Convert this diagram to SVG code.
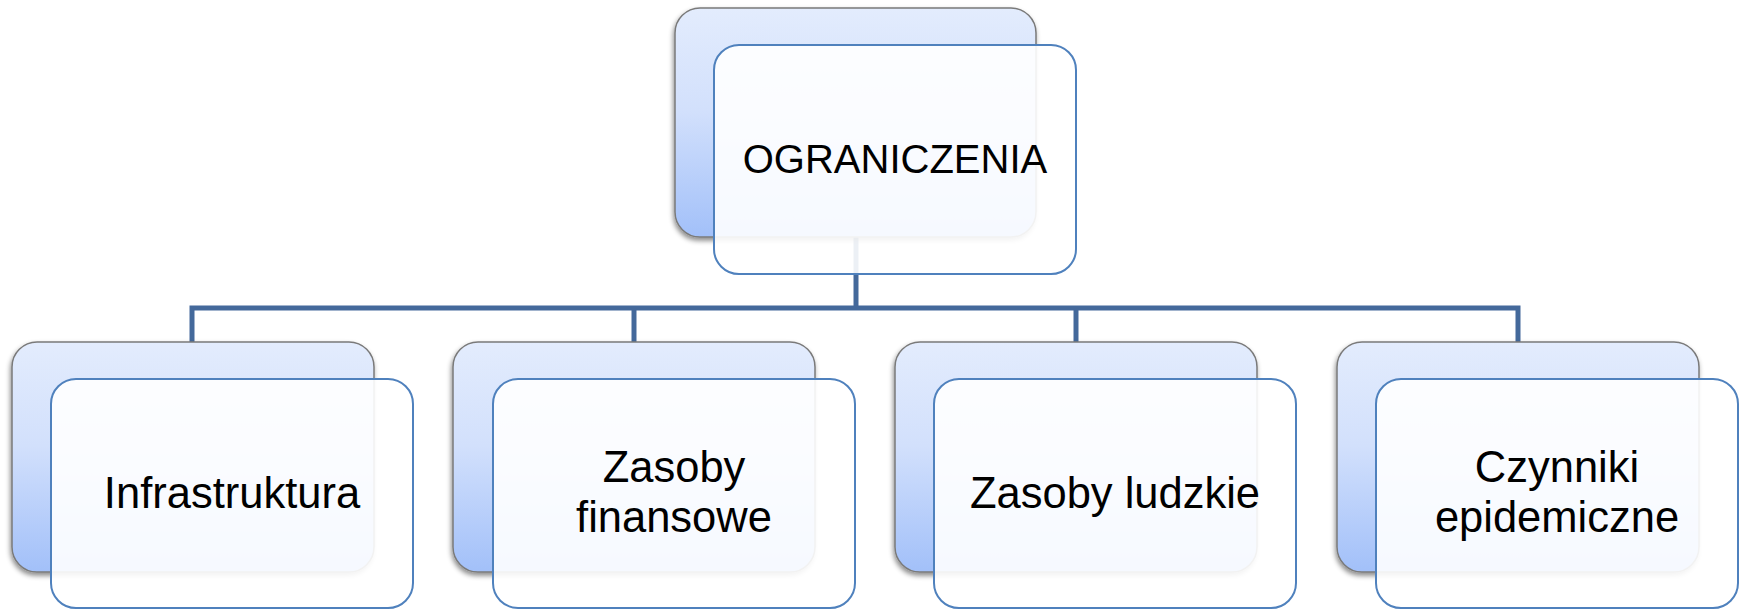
<svg xmlns="http://www.w3.org/2000/svg" width="1747" height="609" viewBox="0 0 1747 609">
  <defs>
    <linearGradient id="backGrad" x1="0" y1="0" x2="0" y2="1">
      <stop offset="0" stop-color="#e3ecfd"/>
      <stop offset="0.45" stop-color="#d2e0fc"/>
      <stop offset="1" stop-color="#a2c0f9"/>
    </linearGradient>
    <filter id="shadow" x="-10%" y="-10%" width="120%" height="125%">
      <feDropShadow dx="-1" dy="3" stdDeviation="2.5" flood-color="#000" flood-opacity="0.45"/>
    </filter>
  </defs>
  <style>
    .back { fill: url(#backGrad); stroke: #7a7a7a; stroke-width: 1.5; filter: url(#shadow); }
    .front { fill: #ffffff; fill-opacity: 0.9; stroke: #4f81bd; stroke-width: 2; }
    .conn { fill: none; stroke: #44699b; stroke-width: 5; stroke-linejoin: miter; }
    .lbl { font-family: "Liberation Sans", Arial, sans-serif; fill: #000; text-anchor: middle; }
    .top { font-size: 40px; }
    .child { font-size: 43.5px; }
  </style>
  <rect width="1747" height="609" fill="#ffffff"/>

  <g id="connectors">
    <path class="conn" d="M856 236 V308"/>
    <path class="conn" d="M192 342 V308 H1518 V342"/>
    <path class="conn" d="M634 308 V342"/>
    <path class="conn" d="M1076 308 V342"/>
  </g>

  <g id="node-ograniczenia">
    <rect class="back" x="675" y="8" width="361" height="229" rx="25" ry="25"/>
    <rect class="front" x="714" y="45" width="362" height="229" rx="25" ry="25"/>
    <text class="lbl top" x="895" y="173">OGRANICZENIA</text>
  </g>

  <g id="node-infrastruktura">
    <rect class="back" x="12" y="342" width="362" height="230" rx="25" ry="25"/>
    <rect class="front" x="51" y="379" width="362" height="229" rx="25" ry="25"/>
    <text class="lbl child" x="232" y="508">Infrastruktura</text>
  </g>

  <g id="node-zasoby-finansowe">
    <rect class="back" x="453" y="342" width="362" height="230" rx="25" ry="25"/>
    <rect class="front" x="493" y="379" width="362" height="229" rx="25" ry="25"/>
    <text class="lbl child" x="674" y="482">Zasoby</text>
    <text class="lbl child" x="674" y="532">finansowe</text>
  </g>

  <g id="node-zasoby-ludzkie">
    <rect class="back" x="895" y="342" width="362" height="230" rx="25" ry="25"/>
    <rect class="front" x="934" y="379" width="362" height="229" rx="25" ry="25"/>
    <text class="lbl child" x="1115" y="508">Zasoby ludzkie</text>
  </g>

  <g id="node-czynniki-epidemiczne">
    <rect class="back" x="1337" y="342" width="362" height="230" rx="25" ry="25"/>
    <rect class="front" x="1376" y="379" width="362" height="229" rx="25" ry="25"/>
    <text class="lbl child" x="1557" y="482">Czynniki</text>
    <text class="lbl child" x="1557" y="532">epidemiczne</text>
  </g>
</svg>
